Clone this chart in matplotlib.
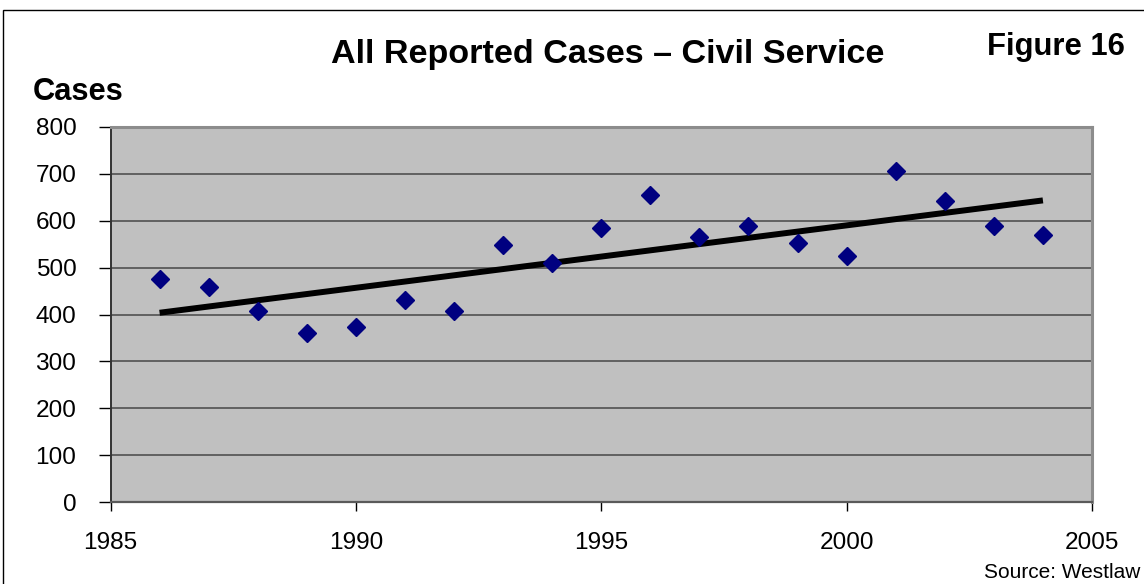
import numpy as np
import matplotlib
matplotlib.use("Agg")
import matplotlib.pyplot as plt
from matplotlib.patches import Rectangle

plt.rcParams['font.family'] = ['Liberation Sans', 'DejaVu Sans']

# Reported civil service cases per year
years = [1986, 1987, 1988, 1989, 1990, 1991, 1992, 1993, 1994, 1995,
         1996, 1997, 1998, 1999, 2000, 2001, 2002, 2003, 2004]
cases = [476, 458, 407, 360, 373, 431, 407, 547, 509, 584,
         655, 566, 588, 552, 525, 706, 642, 588, 570]

x_ticks = [1985, 1990, 1995, 2000, 2005]
y_ticks = [0, 100, 200, 300, 400, 500, 600, 700, 800]

W, H, DPI = 1144, 584, 100
fig = plt.figure(figsize=(W / DPI, H / DPI), dpi=DPI)
fig.patch.set_facecolor('white')

# outer frame (runs off the right and bottom edge)
fig.patches.append(Rectangle((3 / W, -0.05), 1.2, 1 - 10 / H + 0.05,
                             transform=fig.transFigure, fill=False,
                             edgecolor='black', linewidth=1.0))

left, right, top, bottom = 110.5, 1092, 126.7, 502.3
ax = fig.add_axes([left / W, 1 - bottom / H, (right - left) / W, (bottom - top) / H])
ax.set_facecolor('#C0C0C0')

ax.set_xlim(1985, 2005)
ax.set_ylim(0, 800)
ax.set_xticks(x_ticks)
ax.set_yticks(y_ticks)
ax.tick_params(axis='both', labelsize=17.6, colors='black', direction='out')
ax.tick_params(axis='y', length=8.6, width=1, pad=16)
ax.tick_params(axis='x', length=6.5, width=1, pad=15)

for yv in y_ticks[1:-1]:
    ax.axhline(yv, color='#5a5a5a', linewidth=1.3, zorder=1)

ax.spines['left'].set_color('#333333')
ax.spines['left'].set_linewidth(1.4)
ax.spines['bottom'].set_color('#5a5a5a')
ax.spines['bottom'].set_linewidth(1.6)
for s in ('top', 'right'):
    ax.spines[s].set_color('#8c8c8c')
    ax.spines[s].set_linewidth(2.2)

# linear trend over the reported years
coef = np.polyfit(years, cases, 1)
trend_x = np.array([years[0], years[-1]])
ax.plot(trend_x, np.polyval(coef, trend_x), color='black', linewidth=4.3,
        solid_capstyle='butt', zorder=3)

ax.plot(years, cases, linestyle='none', marker='D', markersize=9.5,
        color='#000080', markeredgecolor='#000080', zorder=4)

fig.text(608 / W, 1 - 63 / H, 'All Reported Cases \u2013 Civil Service',
         ha='center', va='baseline', fontsize=24.6, fontweight='bold')
fig.text(1056 / W, 1 - 55 / H, 'Figure 16', ha='center', va='baseline',
         fontsize=22.3, fontweight='bold')
fig.text(33 / W, 1 - 100 / H, 'Cases', ha='left', va='baseline',
         fontsize=22.2, fontweight='bold')
fig.text(1140 / W, 1 - 578 / H, 'Source: Westlaw', ha='right', va='baseline',
         fontsize=15)

fig.savefig('out.png', dpi=DPI, facecolor='white')
